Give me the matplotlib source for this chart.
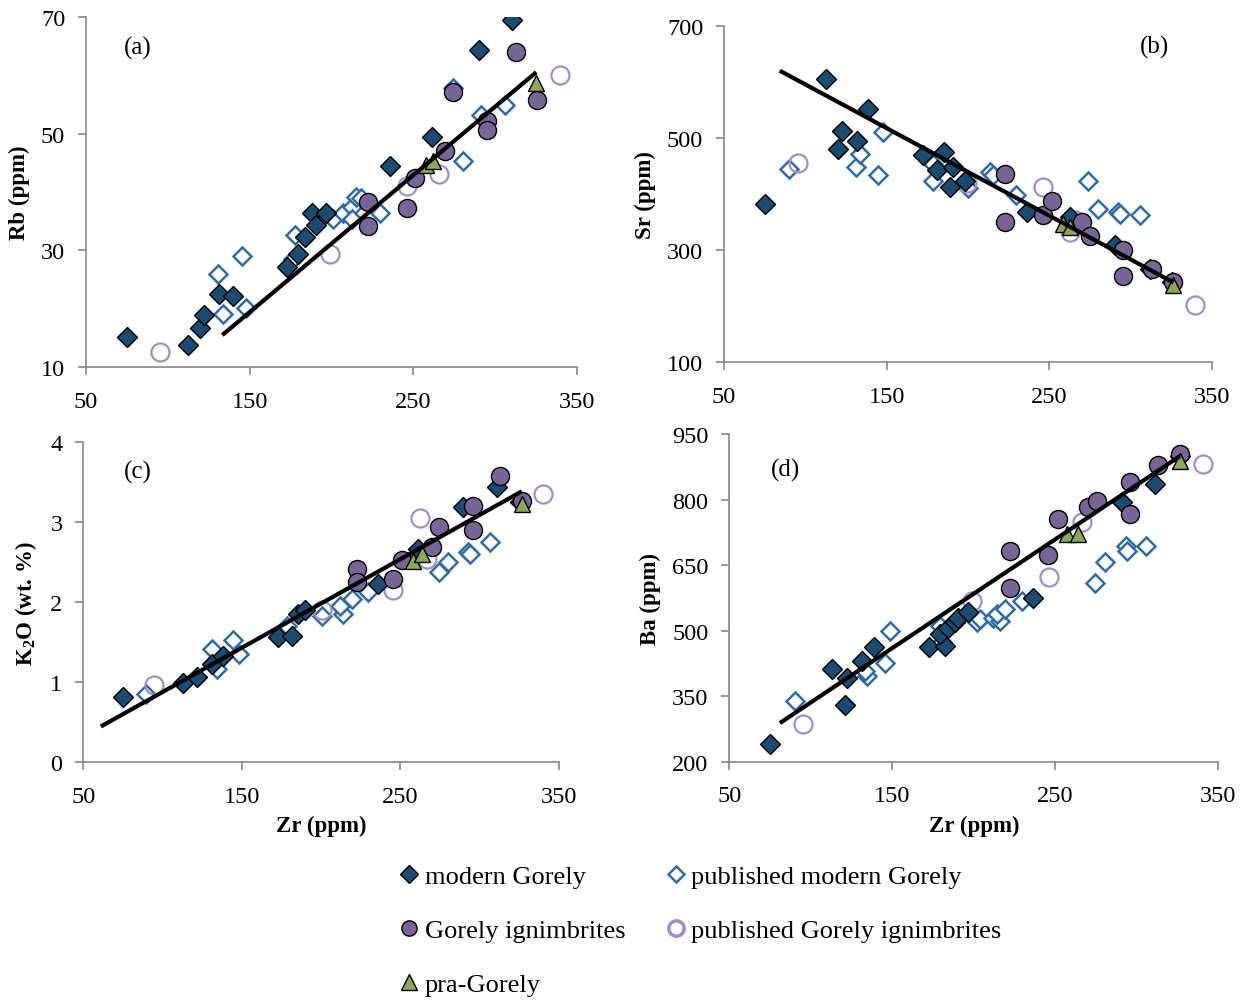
import numpy as np
import matplotlib
matplotlib.use("Agg")
import matplotlib.pyplot as plt
from matplotlib.lines import Line2D

plt.rcParams["font.family"] = ["Liberation Serif", "DejaVu Serif"]
plt.rcParams["mathtext.fontset"] = "custom"
plt.rcParams["mathtext.rm"] = "Liberation Serif"
plt.rcParams["mathtext.bf"] = "Liberation Serif:bold"

# ---- (a) Rb vs Zr ----
a_mod_zr = [74.8, 112.5, 119.6, 122, 131.4, 139.5, 172.5, 179.6, 183.7, 187.8, 190.4, 196.9, 236, 261.6, 290.1, 310.5]
a_mod_v = [15.1, 13.8, 16.6, 18.9, 22.5, 22.2, 27.1, 29.3, 32.2, 36.4, 34.4, 36.4, 44.4, 49.4, 64.4, 69.4]
a_pmod_zr = [130.8, 145.0, 133.8, 147.5, 177.6, 176.6, 201, 207.1, 212.2, 215.2, 218.3, 212.2, 229.5, 274.3, 280.4, 291.6, 305.8]
a_pmod_v = [25.9, 29.1, 19.1, 20.1, 32.7, 28.5, 35.3, 36.4, 37.5, 39.2, 39.0, 35.3, 36.4, 57.8, 45.3, 53.2, 54.9]
a_ign_zr = [222.4, 222.4, 245.8, 250.9, 269.2, 274.3, 295, 295, 313, 325.6]
a_ign_v = [34.2, 38.2, 37.3, 42.4, 47.0, 57.2, 52.1, 50.7, 64.0, 55.8]
a_pign_zr = [95.2, 199, 246.4, 265.7, 339.4]
a_pign_v = [12.6, 29.3, 41.0, 43.0, 60.0]
a_pra_zr = [258, 262.1, 325.1]
a_pra_v = [44.7, 45.3, 58.6]
a_trend_zr = [134.2, 324.1]
a_trend_v = [15.7, 60.3]

# ---- (b) Sr vs Zr ----
b_mod_zr = [75.2, 112.7, 138.7, 122.3, 120.3, 132, 172.1, 185.2, 180.7, 191, 188.9, 198.1, 236, 262.7, 290.3, 311.8, 325.2]
b_mod_v = [383, 605, 552, 513, 481, 494, 470, 474, 442, 448, 413, 424, 368, 359, 309, 267, 244]
b_pmod_zr = [90.2, 131.1, 133.6, 144.9, 148, 178.3, 178.7, 200.2, 213.5, 215.5, 229.5, 273.9, 280.1, 292.4, 293.4, 305.7]
b_pmod_v = [445, 448, 472, 433, 510, 454, 424, 410, 439, 433, 399, 424, 374, 368, 365, 363]
b_ign_zr = [222.7, 222.7, 246.3, 251.4, 269.9, 275, 295.5, 295.5, 312.9, 326.2]
b_ign_v = [436, 350, 363, 387, 350, 325, 300, 253, 267, 244]
b_pign_zr = [95.7, 199.2, 245.9, 265.8, 262.7, 339.5]
b_pign_v = [456, 419, 413, 353, 333, 202]
b_pra_zr = [258.6, 262.7, 326.2]
b_pra_v = [347, 341, 238]
b_trend_zr = [85.4, 325.2]
b_trend_v = [618, 244]

# ---- (c) K2O vs Zr ----
c_mod_zr = [75.2, 112.6, 121.5, 131, 138.3, 173, 181.4, 185.6, 189.8, 236, 261.2, 289.6, 310.6, 325.4]
c_mod_v = [0.81, 0.99, 1.06, 1.23, 1.33, 1.56, 1.58, 1.85, 1.90, 2.23, 2.67, 3.19, 3.44, 3.25]
c_pmod_zr = [89.5, 131, 134.1, 144.6, 148.4, 178.2, 200.3, 213.9, 211.9, 219.2, 229.7, 274.5, 280.2, 292.8, 293.8, 306.4]
c_pmod_v = [0.85, 1.42, 1.17, 1.53, 1.35, 1.71, 1.83, 1.85, 1.96, 2.04, 2.13, 2.38, 2.51, 2.63, 2.60, 2.75]
c_ign_zr = [222.4, 222.4, 245.5, 250.7, 269.6, 274.5, 295.5, 295.5, 312.7, 326.4]
c_ign_v = [2.42, 2.25, 2.29, 2.53, 2.69, 2.94, 3.21, 2.91, 3.58, 3.27]
c_pign_zr = [94.6, 200.3, 245.5, 262.3, 266.5, 339.7]
c_pign_v = [0.96, 1.90, 2.15, 3.06, 2.54, 3.36]
c_pra_zr = [257.7, 263.4, 326.4]
c_pra_v = [2.52, 2.60, 3.23]
c_trend_zr = [62.2, 325.4]
c_trend_v = [0.46, 3.375]

# ---- (d) Ba vs Zr ----
d_mod_zr = [75, 112.8, 121, 122, 131.2, 139, 172.7, 182.3, 179.2, 184.4, 188.4, 190.5, 196.6, 236.5, 290.7, 311.1, 326.5]
d_mod_v = [240, 412, 330, 391, 431, 462, 462, 465, 492, 507, 519, 530, 542, 574, 795, 836, 900]
d_pmod_zr = [90.3, 134.3, 133.5, 145.5, 148.6, 179.2, 180.2, 201.7, 203.7, 211.9, 216, 214, 219.1, 229.3, 274.3, 280.4, 293.3, 293.8, 305.8]
d_pmod_v = [340, 397, 408, 427, 500, 511, 473, 519, 527, 530, 523, 538, 549, 568, 609, 656, 694, 683, 694]
d_ign_zr = [222.2, 222.2, 245.7, 251.8, 270.2, 275.3, 295.8, 295.8, 313.2, 326.5]
d_ign_v = [683, 597, 673, 755, 782, 797, 839, 767, 878, 904]
d_pign_zr = [95, 198.7, 246.3, 266.2, 340.4]
d_pign_v = [286, 568, 622, 748, 881]
d_pra_zr = [257, 264.1, 326.5]
d_pra_v = [721, 721, 889]
d_trend_zr = [82.1, 325.5]
d_trend_v = [291, 897]

NAVY = "#1B4A72"
BLUE = "#2F6CA6"
PURPLE = "#786597"
LILAC = "#A48CC6"
GREEN = "#8BA858"
GRAY = "#868686"

styles = {
    "mod": dict(marker="D", ms=10, mfc=NAVY, mec="black", mew=1.0),
    "pmod": dict(marker="D", ms=9, mfc="white", mec=BLUE, mew=1.8),
    "ign": dict(marker="o", ms=13, mfc=PURPLE, mec="black", mew=1.0),
    "pign": dict(marker="o", ms=13, mfc="none", mec=LILAC, mew=1.6),
    "pra": dict(marker="^", ms=12, mfc=GREEN, mec="black", mew=1.0),
}

panels = [
    ("(a)", [0.0689, 0.6331, 0.3931, 0.3490], (50, 350), (10, 70), [10, 30, 50, 70], "Rb (ppm)", False,
     (a_mod_zr, a_mod_v), (a_pmod_zr, a_pmod_v), (a_ign_zr, a_ign_v), (a_pign_zr, a_pign_v), (a_pra_zr, a_pra_v),
     (a_trend_zr, a_trend_v), (0.106, 0.914)),
    ("(b)", [0.5797, 0.6378, 0.3907, 0.3356], (50, 350), (100, 700), [100, 300, 500, 700], "Sr (ppm)", False,
     (b_mod_zr, b_mod_v), (b_pmod_zr, b_pmod_v), (b_ign_zr, b_ign_v), (b_pign_zr, b_pign_v), (b_pra_zr, b_pra_v),
     (b_trend_zr, b_trend_v), (0.883, 0.937)),
    ("(c)", [0.0667, 0.2390, 0.3809, 0.3190], (50, 350), (0, 4), [0, 1, 2, 3, 4], r"K$_\mathbf{2}$O (wt. %)", True,
     (c_mod_zr, c_mod_v), (c_pmod_zr, c_pmod_v), (c_ign_zr, c_ign_v), (c_pign_zr, c_pign_v), (c_pra_zr, c_pra_v),
     (c_trend_zr, c_trend_v), (0.115, 0.91)),
    ("(d)", [0.5839, 0.2396, 0.3915, 0.3267], (50, 350), (200, 950), [200, 350, 500, 650, 800, 950], "Ba (ppm)", True,
     (d_mod_zr, d_mod_v), (d_pmod_zr, d_pmod_v), (d_ign_zr, d_ign_v), (d_pign_zr, d_pign_v), (d_pra_zr, d_pra_v),
     (d_trend_zr, d_trend_v), (0.114, 0.893)),
]

fig = plt.figure(figsize=(12.49, 10.03), dpi=100)

for (tag, rect, xl, yl, yt, ylab, xlab, mod, pmod, ign, pign, pra, trend, tagpos) in panels:
    ax = fig.add_axes(rect)
    ax.plot(pmod[0], pmod[1], ls="none", zorder=2, **styles["pmod"])
    ax.plot(mod[0], mod[1], ls="none", zorder=3, **styles["mod"])
    ax.plot(pign[0], pign[1], ls="none", zorder=2, **styles["pign"])
    ax.plot(ign[0], ign[1], ls="none", zorder=3, **styles["ign"])
    ax.plot(pra[0], pra[1], ls="none", zorder=4, **styles["pra"])
    ax.plot(trend[0], trend[1], color="black", lw=3, zorder=5)
    ax.set_xlim(*xl)
    ax.set_ylim(*yl)
    ax.set_xticks([50, 150, 250, 350])
    ax.set_yticks(yt)
    for s in ["top", "right"]:
        ax.spines[s].set_visible(False)
    for s in ["left", "bottom"]:
        ax.spines[s].set_color(GRAY)
        ax.spines[s].set_linewidth(1.2)
    ax.tick_params(direction="out", length=6, width=1.2, color=GRAY, labelsize=17.5)
    ax.tick_params(axis="x", pad=11)
    ax.tick_params(axis="y", pad=9)
    ax.set_ylabel(ylab, fontsize=16.5, fontweight="bold", labelpad=8)
    if xlab:
        ax.set_xlabel("Zr (ppm)", fontsize=16.5, fontweight="bold", labelpad=6)
    ax.text(tagpos[0], tagpos[1], tag, transform=ax.transAxes, fontsize=18, ha="center", va="center")
    ax.patch.set_alpha(0)

handles = [
    Line2D([], [], ls="none", **dict(styles["mod"], ms=9)),
    Line2D([], [], ls="none", **dict(styles["ign"], ms=11)),
    Line2D([], [], ls="none", **dict(styles["pra"], ms=11)),
    Line2D([], [], ls="none", **dict(styles["pmod"], ms=8)),
    Line2D([], [], ls="none", **dict(styles["pign"], ms=11, mew=2.5)),
]
labels = ["modern Gorely", "Gorely ignimbrites", "pra-Gorely",
          "published modern Gorely", "published Gorely ignimbrites"]
fig.legend(handles, labels, ncol=2, loc="upper left", bbox_to_anchor=(0.3085, 0.15),
           frameon=False, fontsize=19, handlelength=0.8, handletextpad=0.2,
           labelspacing=1.15, columnspacing=1.5, borderpad=0)

fig.savefig("out.png", dpi=100)
